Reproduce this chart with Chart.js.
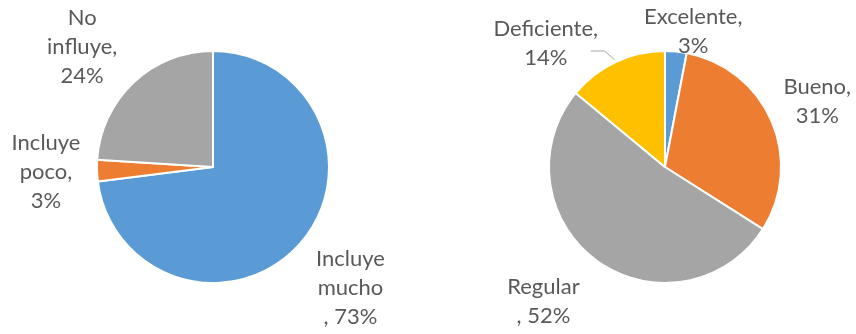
<!DOCTYPE html>
<html>
<head>
<meta charset="utf-8">
<script src="https://cdn.jsdelivr.net/npm/chart.js@4"></script>
<style>
  html, body { margin: 0; padding: 0; background: #fff; }
  #wrap { width: 856px; height: 334px; display: flex; }
  .cell { position: relative; width: 428px; height: 334px; }
</style>
</head>
<body>
<div id="wrap">
  <div class="cell"><canvas id="pie-influye"></canvas></div>
  <div class="cell"><canvas id="pie-calidad"></canvas></div>
</div>
<script>
// left pie: how much it influences
const influyeCats = ["Incluye mucho", "Incluye poco", "No influye"];
const influyeVals = [73, 3, 24];
const influyeLines = [["Incluye", "mucho"], ["Incluye", "poco,"], ["No", "influye,"]];
const influyePctPrefix = [", ", "", ""];

// right pie: rating
const calidadCats = ["Excelente", "Bueno", "Regular", "Deficiente"];
const calidadVals = [3, 31, 52, 14];
const calidadLines = [["Excelente,"], ["Bueno,"], ["Regular"], ["Deficiente,"]];
const calidadPctPrefix = ["", "", ", ", ""];

const BLUE = "#5b9bd5", ORANGE = "#ed7d31", GRAY = "#a5a5a5", GOLD = "#ffc000";
const TEXT = "#595959";
const FONT = "22px Lato, 'Liberation Sans', sans-serif";

// label spot for each slice: distance in radii from centre, and angle nudge (deg)
const influyeSpots = [[1.58, 0], [1.44, 0], [1.53, -4.3]];
const calidadSpots = [[1.19, 6.4], [1.43, 0], [1.56, 6.2], [1.48, -18.8]];

const outsideLabels = {
  id: "outsideLabels",
  afterDatasetsDraw(chart, args, opts) {
    const ctx = chart.ctx;
    const meta = chart.getDatasetMeta(0);
    const vals = chart.data.datasets[0].data;
    ctx.save();
    ctx.font = FONT;
    ctx.fillStyle = TEXT;
    ctx.textAlign = "center";
    ctx.textBaseline = "middle";
    meta.data.forEach((arc, i) => {
      const { x, y, startAngle, endAngle, outerRadius } = arc.getProps(["x", "y", "startAngle", "endAngle", "outerRadius"], true);
      const mid = (startAngle + endAngle) / 2;
      const [k, nudge] = opts.spots[i];
      const a = mid + nudge * Math.PI / 180;
      const cx = x + Math.cos(a) * outerRadius * k;
      const cy = y + Math.sin(a) * outerRadius * k;
      const lines = [...opts.lines[i], opts.prefix[i] + vals[i] + "%"];
      const lh = 29;
      const top = cy - (lines.length - 1) * lh / 2;
      lines.forEach((t, j) => ctx.fillText(t, cx, top + j * lh));

      if (opts.leader && opts.leader[i]) {
        // short leader from the label to the slice edge
        const ex = x + Math.cos(mid) * (outerRadius + 3);
        const ey = y + Math.sin(mid) * (outerRadius + 3);
        ctx.strokeStyle = "#a6a6a6";
        ctx.lineWidth = 1;
        ctx.beginPath();
        ctx.moveTo(cx + 45, top + lh - 7);
        ctx.lineTo(ex - 10, top + lh - 7);
        ctx.lineTo(ex, ey);
        ctx.stroke();
      }
    });
    ctx.restore();
  }
};

function makePie(id, cats, vals, colors, pad, lines, prefix, spots, leader) {
  return new Chart(document.getElementById(id), {
    type: "pie",
    data: {
      labels: cats,
      datasets: [{
        data: vals,
        backgroundColor: colors,
        borderColor: "#ffffff",
        borderWidth: 2
      }]
    },
    options: {
      responsive: true,
      maintainAspectRatio: false,
      animation: false,
      layout: { padding: pad },
      plugins: {
        legend: { display: false },
        tooltip: { enabled: false },
        outsideLabels: { lines, prefix, spots, leader }
      }
    },
    plugins: [outsideLabels]
  });
}

makePie("pie-influye", influyeCats, influyeVals, [BLUE, ORANGE, GRAY],
  { left: 96, right: 98, top: 50, bottom: 50 },
  influyeLines, influyePctPrefix, influyeSpots, null);

makePie("pie-calidad", calidadCats, calidadVals, [BLUE, ORANGE, GRAY, GOLD],
  { left: 120, right: 74, top: 50, bottom: 50 },
  calidadLines, calidadPctPrefix, calidadSpots, [false, false, false, true]);
</script>
</body>
</html>
